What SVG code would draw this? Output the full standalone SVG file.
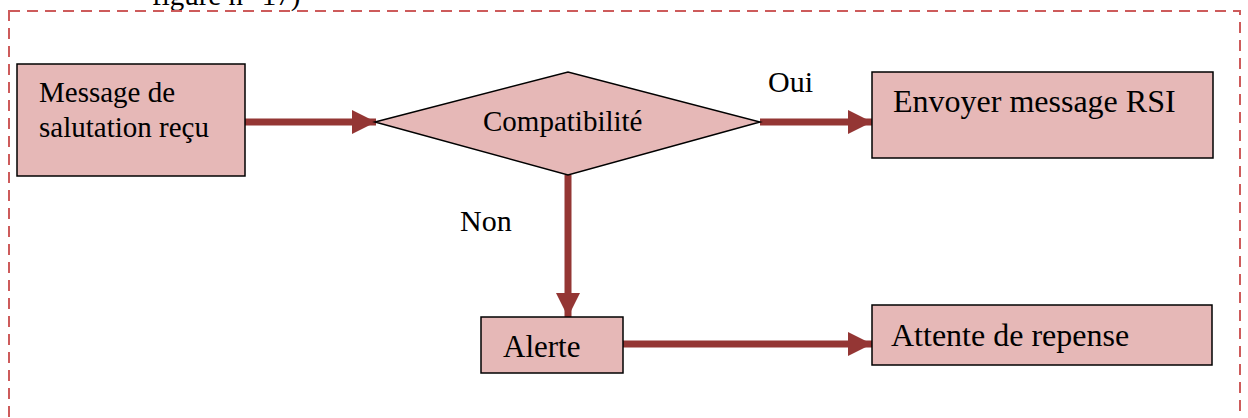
<svg xmlns="http://www.w3.org/2000/svg" width="1248" height="418" viewBox="0 0 1248 418">
  <style>
    .box { fill: #E6B8B7; stroke: #000; stroke-width: 1.5; }
    .t { font-family: "Liberation Serif", "Times New Roman", serif; fill: #000; }
    .conn { stroke: #943634; stroke-width: 7; fill: none; }
    .frame { fill: none; stroke: #CD5B5B; stroke-width: 2; stroke-dasharray: 11 7; }
  </style>
  <defs>
    <marker id="ah" markerUnits="userSpaceOnUse" markerWidth="26" markerHeight="26" refX="24" refY="12" orient="auto">
      <path d="M0,0 L24,12 L0,24 Z" fill="#943634"/>
    </marker>
  </defs>

  <text class="t" x="152" y="5" font-size="29">figure n° 17)</text>
  <rect class="frame" x="9" y="11" width="1231" height="430"/>

  <g id="connectors">
    <line class="conn" x1="245" y1="122" x2="376" y2="122" marker-end="url(#ah)"/>
    <line class="conn" x1="760" y1="122" x2="872" y2="122" marker-end="url(#ah)"/>
    <line class="conn" x1="568" y1="175" x2="568" y2="317" marker-end="url(#ah)"/>
    <line class="conn" x1="623" y1="344" x2="872" y2="344" marker-end="url(#ah)"/>
    <text class="t" x="768" y="92" font-size="30">Oui</text>
    <text class="t" x="460" y="231" font-size="30">Non</text>
  </g>

  <g id="message">
    <rect class="box" x="17" y="64" width="228" height="112"/>
    <text class="t" x="39" y="102" font-size="29">Message de</text>
    <text class="t" x="39" y="137" font-size="29">salutation reçu</text>
  </g>

  <g id="compatibilite">
    <polygon class="box" points="375,122 568,72 760,122 568,175"/>
    <text class="t" x="483" y="131" font-size="29" font-family="Liberation Serif, serif">Compatibilité</text>
  </g>

  <g id="envoyer">
    <rect class="box" x="872" y="72" width="341" height="86"/>
    <text class="t" x="893" y="112" font-size="32">Envoyer message RSI</text>
  </g>

  <g id="alerte">
    <rect class="box" x="481" y="317" width="142" height="56"/>
    <text class="t" x="503" y="357" font-size="31">Alerte</text>
  </g>

  <g id="attente">
    <rect class="box" x="872" y="305" width="340" height="60"/>
    <text class="t" x="891" y="346" font-size="32">Attente de repense</text>
  </g>
</svg>
